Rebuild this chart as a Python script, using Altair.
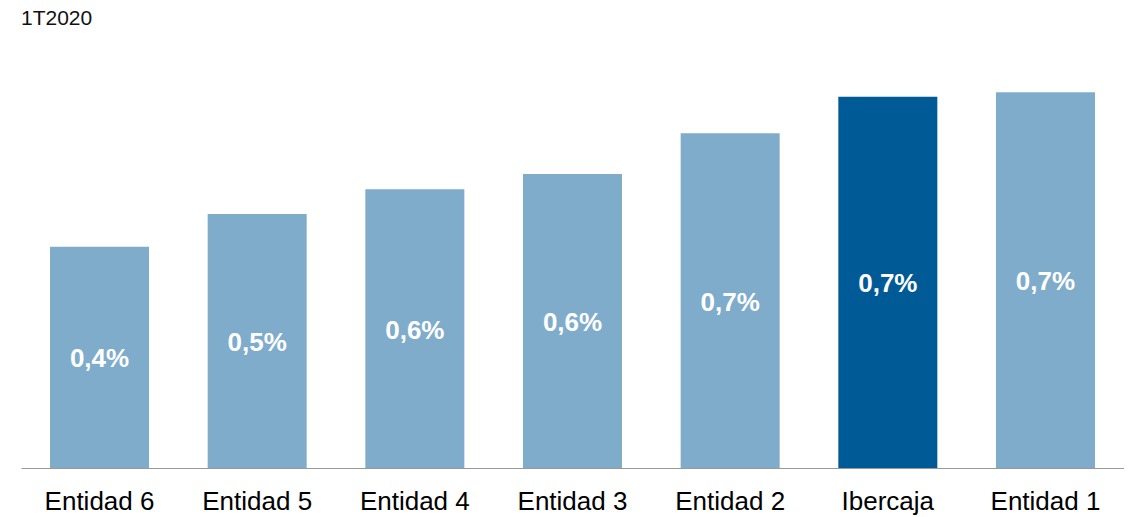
import altair as alt
import pandas as pd

entidades = ["Entidad 6", "Entidad 5", "Entidad 4", "Entidad 3", "Entidad 2", "Ibercaja", "Entidad 1"]
valores = [0.438, 0.503, 0.552, 0.582, 0.663, 0.735, 0.744]
etiquetas = ["0,4%", "0,5%", "0,6%", "0,6%", "0,7%", "0,7%", "0,7%"]

df = pd.DataFrame({"entidad": entidades, "valor": valores, "etiqueta": etiquetas})

FONT = "Liberation Sans"
YDOM = [0, 0.8475]

x = alt.X(
    "entidad:N",
    sort=entidades,
    scale=alt.Scale(paddingInner=0.372, paddingOuter=0.184),
    axis=alt.Axis(
        title=None,
        labelAngle=0,
        labelFontSize=26,
        labelFont=FONT,
        labelColor="#000000",
        labelPadding=20,
        ticks=False,
        domainColor="#999999",
        domainWidth=1,
    ),
)

base = alt.Chart(df).encode(x=x)

bars = base.mark_bar().encode(
    y=alt.Y("valor:Q", scale=alt.Scale(domain=YDOM, nice=False, zero=True), axis=None),
    color=alt.condition(
        alt.datum.entidad == "Ibercaja",
        alt.value("#005A96"),
        alt.value("#80ACCC"),
    ),
)

labels = base.transform_calculate(mid="datum.valor / 2").mark_text(
    color="white", fontSize=26, fontWeight="bold", font=FONT, baseline="middle", align="center", dy=2
).encode(
    y=alt.Y("mid:Q", scale=alt.Scale(domain=YDOM, nice=False, zero=True), axis=None),
    text="etiqueta:N",
)

chart = (
    alt.layer(bars, labels)
    .properties(
        width=1103,
        height=428,
        title=alt.TitleParams(
            "1T2020", anchor="start", fontSize=21, font=FONT, fontWeight="normal",
            color="#111111", offset=11,
        ),
        autosize=alt.AutoSizeParams(type="none"),
        padding={"left": 13, "top": 32, "right": 0, "bottom": 50},
    )
    .configure_view(stroke=None)
)

chart.save("out.html", embed_options={"renderer": "svg", "actions": False})
